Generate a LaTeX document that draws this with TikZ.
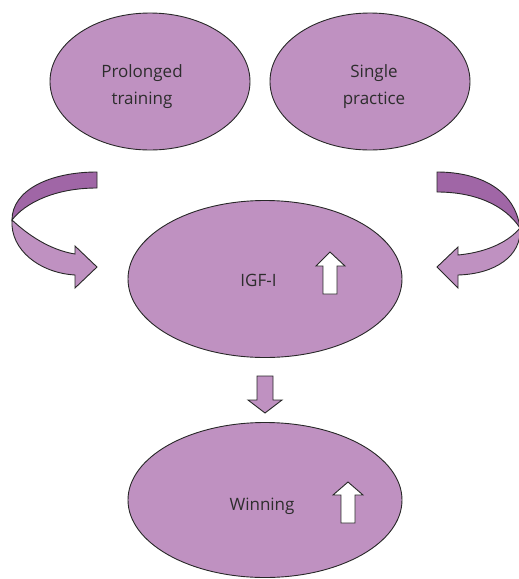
\documentclass[tikz,border=0pt]{standalone}
\usepackage{fontspec}
\setmainfont{Open Sans}
\usetikzlibrary{shapes.geometric}
\definecolor{lilac}{RGB}{191,145,193}
\definecolor{plum}{RGB}{160,102,166}
\definecolor{inkline}{RGB}{40,40,40}
\definecolor{inktext}{RGB}{45,45,45}
\begin{document}
\begin{tikzpicture}[x=1pt,y=-1pt,
  bubble/.style={ellipse,draw=inkline,fill=lilac,line width=0.9pt,inner sep=0pt,outer sep=0pt},
  caption/.style={text=inktext,align=center,font=\fontsize{17}{27}\selectfont,inner sep=0pt},
  blockarrow/.style={draw=inkline,line width=0.9pt,line join=miter},
]
\useasboundingbox (0,0) rectangle (519,579);

% the four ellipses
\node[bubble,minimum width=200pt,minimum height=137pt] (prolonged) at (150,81.5) {};
\node[bubble,minimum width=200pt,minimum height=137pt] (single)    at (370,81.5) {};
\node[bubble,minimum width=274pt,minimum height=157pt] (igf)       at (265,279) {};
\node[bubble,minimum width=274pt,minimum height=155pt] (winning)   at (265,500) {};

% labels
\node[caption] (tprolonged) at (142,86.5) {Prolonged\\training};
\node[caption] (tsingle)    at (374,86.5) {Single\\practice};
\node[caption] (tigf)       at (258.5,280) {IGF-I};
\node[caption] (twinning)   at (262,506) {Winning};

% up arrows inside the ellipses
\draw[blockarrow,fill=white] (323,294) -- (323,266) -- (316,266) -- (330,252)
  -- (345,266) -- (337,266) -- (337,294) -- cycle;
\draw[blockarrow,fill=white] (341,523) -- (341,495) -- (333,495) -- (348,482)
  -- (363,495) -- (355,495) -- (355,523) -- cycle;

% down arrow from IGF-I to Winning
\draw[blockarrow,fill=lilac] (257,376) -- (273,376) -- (273,400) -- (282,400)
  -- (265,413) -- (248,400) -- (257,400) -- cycle;

% left curved arrow: back face, then front face with head
\draw[blockarrow,fill=plum] (97,172) .. controls (50,172) and (12,190) .. (12,220)
  .. controls (25,203) and (55,188) .. (97,188) -- cycle;
\draw[blockarrow,fill=lilac] (12,220) .. controls (10,250) and (40,273) .. (75,275)
  -- (75,288) -- (97,267) -- (75,246) -- (75,254)
  .. controls (50,250) and (28,235) .. (12,220) -- cycle;

% right curved arrow: back face, then front face with head
\draw[blockarrow,fill=plum] (437,172) .. controls (480,172) and (515,190) .. (520,228)
  .. controls (505,205) and (475,192) .. (437,192) -- cycle;
\draw[blockarrow,fill=lilac] (520,228) .. controls (522,256) and (495,274) .. (458,275)
  -- (458,288) -- (437,267) -- (458,247) -- (458,255)
  .. controls (490,252) and (510,240) .. (520,228) -- cycle;
\end{tikzpicture}
\end{document}
